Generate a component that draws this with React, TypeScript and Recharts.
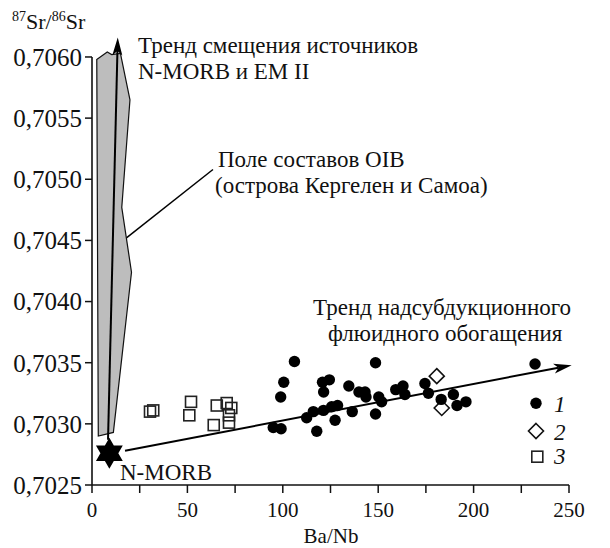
import React from 'react';
import { ScatterChart, Scatter, XAxis, YAxis, ReferenceLine, Customized } from 'recharts';

const FONT = '"Liberation Serif", "Times New Roman", serif';

const xTicks = [0, 25, 50, 75, 100, 125, 150, 175, 200, 225, 250];
const yTicks = [0.7025, 0.703, 0.7035, 0.704, 0.7045, 0.705, 0.7055, 0.706];

// 1 - кружки
const g1BaNb = [106.1, 100.5, 98.9, 95.0, 99.1, 148.6, 120.8, 124.4, 121.4, 134.6, 139.9, 143.1, 143.6, 150.3, 151.8, 159.2, 163.0, 164.0, 174.5, 176.3, 183.0, 189.4, 191.3, 196.0, 232.2, 112.5, 116.0, 121.3, 125.6, 128.7, 127.4, 117.8, 136.4, 148.6];
const g1Sr = [0.70351, 0.70334, 0.70322, 0.70297, 0.70296, 0.7035, 0.70334, 0.70336, 0.70326, 0.70331, 0.70326, 0.70326, 0.70322, 0.70322, 0.70318, 0.70328, 0.70331, 0.70324, 0.70333, 0.70325, 0.7032, 0.70324, 0.70315, 0.70318, 0.70349, 0.70305, 0.7031, 0.70311, 0.70314, 0.70315, 0.70303, 0.70294, 0.7031, 0.70308];

// 2 - ромбы
const g2BaNb = [180.7, 183.3];
const g2Sr = [0.70339, 0.70313];

// 3 - квадраты
const g3BaNb = [30.4, 32.1, 51.9, 51.0, 65.4, 70.6, 73.0, 63.8, 71.8, 71.8];
const g3Sr = [0.7031, 0.70311, 0.70318, 0.70307, 0.70315, 0.70317, 0.70313, 0.70299, 0.70307, 0.70301];

// поле составов OIB (контур)
const oibBaNb = [2.5, 8.0, 10.3, 14.9, 19.9, 15.6, 20.7, 11.2, 3.3];
const oibSr = [0.70598, 0.70604, 0.70602, 0.70603, 0.70565, 0.70477, 0.70424, 0.70293, 0.7029];

// N-MORB
const nmorbBaNb = [9.1];
const nmorbSr = [0.70276];

// тренды и выноска
const trendSourceBaNb = [8.4, 13.5];
const trendSourceSr = [0.70287, 0.70616];
const trendFluid = [{ x: 17.3, y: 0.70278 }, { x: 251.4, y: 0.70348 }];
const oibLeader = [{ x: 63.4, y: 0.70508 }, { x: 16.4, y: 0.7045 }];
const yAxisSpan = [{ x: 0, y: 0.7025 }, { x: 0, y: 0.706 }];

const zip = (xs: number[], ys: number[]) => xs.map((x, i) => ({ x, y: ys[i] }));

const g1 = zip(g1BaNb, g1Sr);
const g2 = zip(g2BaNb, g2Sr);
const g3 = zip(g3BaNb, g3Sr);
const oib = zip(oibBaNb, oibSr);
const nmorb = zip(nmorbBaNb, nmorbSr);
const trendSource = zip(trendSourceBaNb, trendSourceSr);

const DotShape = (p: any) => <circle cx={p.cx} cy={p.cy} r={5.7} fill="#000" />;
const DiamondShape = (p: any) => (
  <path
    d={`M${p.cx},${p.cy - 7.5}L${p.cx + 7.5},${p.cy}L${p.cx},${p.cy + 7.5}L${p.cx - 7.5},${p.cy}Z`}
    fill="none"
    stroke="#111"
    strokeWidth={1.6}
  />
);
const SquareShape = (p: any) => (
  <rect x={p.cx - 5.5} y={p.cy - 5.5} width={11} height={11} fill="none" stroke="#222" strokeWidth={1.6} />
);
const StarShape = (p: any) => {
  const R = 15.5;
  const tri = (a0: number) =>
    [0, 1, 2]
      .map((k) => {
        const a = ((a0 + k * 120) * Math.PI) / 180;
        return `${k === 0 ? 'M' : 'L'}${p.cx + R * Math.cos(a)},${p.cy + R * Math.sin(a)}`;
      })
      .join('') + 'Z';
  return <path d={tri(-90) + tri(90)} fill="#000" />;
};
const NoShape = () => <g />;

const polygonLine = (p: any) => {
  const pts = p.points || [];
  const d = pts.map((q: any, i: number) => `${i === 0 ? 'M' : 'L'}${q.x},${q.y}`).join('') + 'Z';
  return <path d={d} fill="#bdbdbd" stroke="#111" strokeWidth={1.2} />;
};

const drawArrow = (x1: number, y1: number, x2: number, y2: number) => {
  const dx = x2 - x1;
  const dy = y2 - y1;
  const len = Math.hypot(dx, dy) || 1;
  const ux = dx / len;
  const uy = dy / len;
  const L = 18;
  const W = 5;
  const bx = x2 - ux * L;
  const by = y2 - uy * L;
  const nx = x2 - ux * L * 0.75;
  const ny = y2 - uy * L * 0.75;
  return (
    <g>
      <line x1={x1} y1={y1} x2={nx} y2={ny} stroke="#000" strokeWidth={2} />
      <path d={`M${x2},${y2}L${bx - uy * W},${by + ux * W}L${nx},${ny}L${bx + uy * W},${by - ux * W}Z`} fill="#000" />
    </g>
  );
};

const arrowShape = (p: any) => drawArrow(p.x1, p.y1, p.x2, p.y2);
const arrowLine = (p: any) => {
  const pts = p.points || [];
  if (pts.length < 2) return <g />;
  return drawArrow(pts[0].x, pts[0].y, pts[1].x, pts[1].y);
};

const plainShape = (p: any) => <line x1={p.x1} y1={p.y1} x2={p.x2} y2={p.y2} stroke="#000" strokeWidth={1.5} />;

const Annotations = () => (
  <g fontFamily={FONT} fill="#111">
    <text x={4} y={21} fontSize={22}>
      <tspan fontSize={14} dy={-8}>87</tspan>
      <tspan dy={8}>Sr/</tspan>
      <tspan fontSize={14} dy={-8}>86</tspan>
      <tspan dy={8}>Sr</tspan>
    </text>
    <text x={130} y={45} fontSize={23}>Тренд смещения источников</text>
    <text x={130} y={71} fontSize={23}>N-MORB и EM II</text>
    <text x={210} y={159} fontSize={23}>Поле составов OIB</text>
    <text x={207} y={185} fontSize={23}>(острова Кергелен и Самоа)</text>
    <text x={305} y={307} fontSize={23}>Тренд надсубдукционного</text>
    <text x={320} y={333} fontSize={23}>флюидного обогащения</text>
    <text x={112} y={472} fontSize={23}>N-MORB</text>
    <text x={323} y={535} fontSize={21} textAnchor="middle">Ba/Nb</text>

    <circle cx={528} cy={395.3} r={5.7} fill="#000" />
    <text x={546} y={403.5} fontSize={23} fontStyle="italic">1</text>
    <path d="M528,415.5L535.5,423L528,430.5L520.5,423Z" fill="none" stroke="#111" strokeWidth={1.6} />
    <text x={546} y={431.5} fontSize={23} fontStyle="italic">2</text>
    <rect x={523.8} y={443.2} width={11} height={11} fill="none" stroke="#222" strokeWidth={1.6} />
    <text x={546} y={456} fontSize={23} fontStyle="italic">3</text>
  </g>
);

export default function App() {
  return (
    <ScatterChart width={594} height={540} margin={{ top: 18.4, right: 33, left: 0, bottom: 0 }}>
      <XAxis
        type="number"
        dataKey="x"
        domain={[0, 250]}
        ticks={xTicks}
        interval={0}
        tickFormatter={(v: number) => (v % 50 === 0 ? String(v) : '')}
        height={63}
        tickSize={8}
        tickMargin={9}
        stroke="#111"
        strokeWidth={1.5}
        tick={{ fill: '#111', fontSize: 21, fontFamily: FONT }}
      />
      <YAxis
        type="number"
        dataKey="y"
        domain={[0.7025, 0.70625]}
        ticks={yTicks}
        interval={0}
        width={84}
        axisLine={false}
        tickSize={7}
        tickMargin={3}
        stroke="#111"
        tickLine={{ stroke: '#111', strokeWidth: 1.5 }}
        tickFormatter={(v: number) => v.toFixed(4).replace('.', ',')}
        tick={{ fill: '#111', fontSize: 25, fontFamily: FONT }}
      />
      <ReferenceLine segment={yAxisSpan} ifOverflow="visible" shape={plainShape} />
      <ReferenceLine segment={oibLeader} ifOverflow="visible" shape={plainShape} />
      <ReferenceLine segment={trendFluid} ifOverflow="visible" shape={arrowShape} />
      <Scatter data={oib} shape={NoShape} line={polygonLine} isAnimationActive={false} />
      <Scatter data={trendSource} shape={NoShape} line={arrowLine} isAnimationActive={false} />
      <Scatter data={g3} shape={SquareShape} isAnimationActive={false} />
      <Scatter data={g2} shape={DiamondShape} isAnimationActive={false} />
      <Scatter data={g1} shape={DotShape} isAnimationActive={false} />
      <Scatter data={nmorb} shape={StarShape} isAnimationActive={false} />
      <Customized component={Annotations} />
    </ScatterChart>
  );
}
